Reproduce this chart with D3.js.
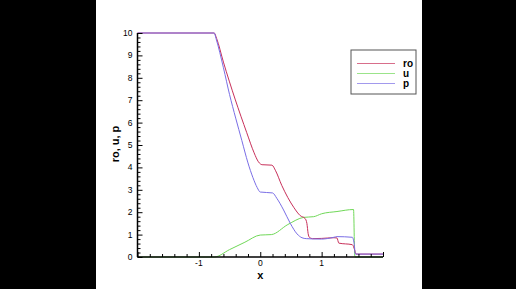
<!DOCTYPE html>
<html>
<head>
<meta charset="utf-8">
<script src="https://cdn.jsdelivr.net/npm/d3@7"></script>
<style>
  html, body { margin: 0; padding: 0; background: #000; }
  svg { display: block; }
</style>
</head>
<body>
<div id="chart"></div>
<script>
// values
const roX = [-2, -0.75, -0.71, -0.6, -0.41, -0.22, -0.1, -0.03, 0.03, 0.19, 0.25, 0.35, 0.45, 0.55, 0.65, 0.73, 0.76, 0.78, 0.8, 0.85, 1.0, 1.2, 1.25, 1.28, 1.5, 1.54, 1.56, 2];
const roY = [10, 10, 9.75, 8.7, 7.05, 5.55, 4.65, 4.25, 4.12, 4.1, 3.85, 3.2, 2.65, 2.2, 1.85, 1.72, 1.5, 1.05, 0.88, 0.82, 0.83, 0.86, 0.85, 0.62, 0.55, 0.3, 0.13, 0.13];

const uX = [-2, -0.75, -0.5, -0.25, 0, 0.18, 0.45, 0.71, 0.87, 1.0, 1.25, 1.52, 1.54, 1.55, 2];
const uY = [0, 0, 0.33, 0.66, 0.98, 1.0, 1.45, 1.77, 1.8, 1.93, 2.03, 2.12, 0.05, 0, 0];

const pX = [-2, -0.75, -0.72, -0.6, -0.5, -0.4, -0.3, -0.2, -0.12, -0.05, 0, 0.2, 0.27, 0.38, 0.49, 0.6, 0.68, 0.75, 1.0, 1.2, 1.25, 1.5, 1.53, 1.55, 2];
const pY = [10, 10, 9.75, 8.45, 7.25, 6.2, 5.2, 4.2, 3.55, 3.1, 2.9, 2.86, 2.62, 2.1, 1.5, 1.03, 0.86, 0.82, 0.8, 0.88, 0.91, 0.88, 0.6, 0.13, 0.13];

const yTicks = [0, 1, 2, 3, 4, 5, 6, 7, 8, 9, 10];
const xTicks = [-1, 0, 1];
const seriesNames = ['ro', 'u', 'p'];
const seriesColors = ['#c8305a', '#70d858', '#7a6ee6'];

const W = 516, H = 289;
const svg = d3.select('#chart').append('svg')
    .attr('width', W)
    .attr('height', H);

// white page between the black bars
svg.append('rect')
    .attr('x', 96).attr('y', 0)
    .attr('width', 326).attr('height', H)
    .attr('fill', '#fff');

const x = d3.scaleLinear().domain([-2, 2]).range([137.5, 383]);
const y = d3.scaleLinear().domain([0, 10]).range([257, 33]);

const series = [
    roX.map((v, i) => [v, roY[i]]),
    uX.map((v, i) => [v, uY[i]]),
    pX.map((v, i) => [v, pY[i]])
];

const line = d3.line()
    .x(d => x(d[0]))
    .y(d => y(d[1]))
    .curve(d3.curveMonotoneX);

// draw u first so ro/p sit on top
[1, 0, 2].forEach(i => {
    svg.append('path')
        .datum(series[i])
        .attr('d', line)
        .attr('fill', 'none')
        .attr('stroke', seriesColors[i])
        .attr('stroke-width', 1);
});

// axes: ticks pointing into the plot
const minorY = d3.range(0, 10.01, 0.2).filter(v => Math.abs(v - Math.round(v)) > 1e-6);
const minorX = d3.range(-2, 2.01, 0.2).filter(v => Math.abs(v - Math.round(v)) > 1e-6);

const yAxis = svg.append('g').attr('transform', `translate(${x(-2)},0)`);
yAxis.call(d3.axisRight(y).tickValues(minorY).tickSize(3).tickFormat(''));
yAxis.append('g').call(d3.axisRight(y).tickValues(yTicks).tickSize(5).tickFormat(''));
yAxis.selectAll('.domain').remove();

const xAxis = svg.append('g').attr('transform', `translate(0,${y(0)})`);
xAxis.call(d3.axisTop(x).tickValues(minorX).tickSize(3).tickFormat(''));
xAxis.append('g').call(d3.axisTop(x).tickValues(d3.range(-2, 2.01, 1)).tickSize(5).tickFormat(''));
xAxis.selectAll('.domain').remove();

svg.selectAll('.tick line').attr('stroke', '#000').attr('stroke-width', 1);

svg.append('line')
    .attr('x1', x(-2)).attr('x2', x(-2))
    .attr('y1', y(0)).attr('y2', y(10))
    .attr('stroke', '#000').attr('stroke-width', 1.5);
svg.append('line')
    .attr('x1', x(-2)).attr('x2', x(2))
    .attr('y1', y(0)).attr('y2', y(0))
    .attr('stroke', '#000').attr('stroke-width', 1.5);

// tick labels
svg.append('g').selectAll('text')
    .data(yTicks)
    .enter().append('text')
    .attr('x', x(-2) - 5)
    .attr('y', d => y(d))
    .attr('dy', '0.35em')
    .attr('text-anchor', 'end')
    .style('font-family', 'Liberation Sans, Arial, sans-serif')
    .style('font-size', '8.5px')
    .text(d => d);

svg.append('g').selectAll('text')
    .data(xTicks)
    .enter().append('text')
    .attr('x', d => x(d))
    .attr('y', 263.5)
    .attr('dy', '0.35em')
    .attr('text-anchor', 'middle')
    .style('font-family', 'Liberation Sans, Arial, sans-serif')
    .style('font-size', '8.5px')
    .text(d => d);

// axis titles
svg.append('text')
    .attr('x', x(0))
    .attr('y', 275)
    .attr('dy', '0.35em')
    .attr('text-anchor', 'middle')
    .style('font-family', 'Liberation Sans, Arial, sans-serif')
    .style('font-size', '11px')
    .style('font-weight', 'bold')
    .text('x');

svg.append('text')
    .attr('transform', 'translate(115,144) rotate(-90)')
    .attr('dy', '0.35em')
    .attr('text-anchor', 'middle')
    .style('font-family', 'Liberation Sans, Arial, sans-serif')
    .style('font-size', '11px')
    .style('font-weight', 'bold')
    .text('ro, u, p');

// legend
const legend = svg.append('g').attr('transform', 'translate(351,50)');
legend.append('rect')
    .attr('width', 65).attr('height', 44)
    .attr('fill', '#fff')
    .attr('stroke', '#555')
    .attr('stroke-width', 1);

seriesNames.forEach((name, i) => {
    const row = legend.append('g').attr('transform', `translate(0, ${13.5 + i * 10})`);
    row.append('line')
        .attr('x1', 6).attr('x2', 44)
        .attr('stroke', seriesColors[i])
        .attr('stroke-opacity', 0.7)
        .attr('stroke-width', 1);
    row.append('text')
        .attr('x', 52)
        .attr('dy', '0.35em')
        .style('font-family', 'Liberation Sans, Arial, sans-serif')
        .style('font-size', '10px')
        .style('font-weight', 'bold')
        .text(name);
});
</script>
</body>
</html>
